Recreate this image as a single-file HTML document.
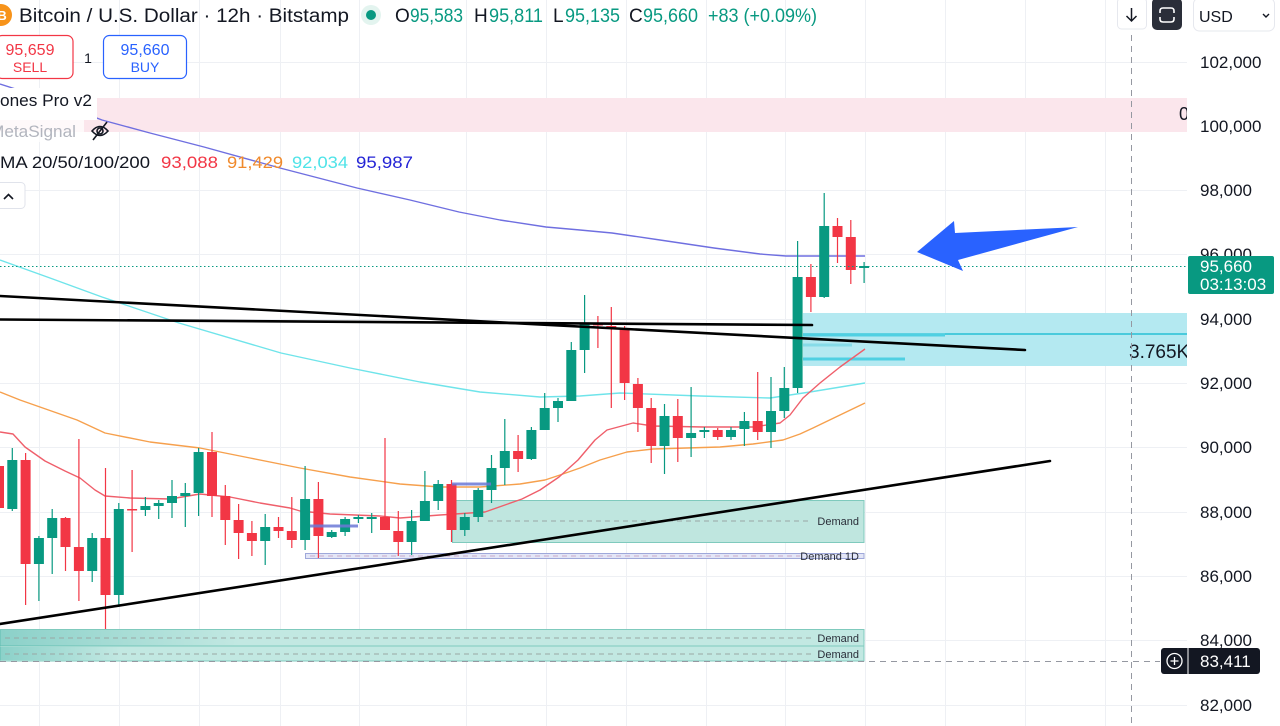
<!DOCTYPE html>
<html><head><meta charset="utf-8"><style>html,body{margin:0;padding:0;background:#fff;overflow:hidden}svg{display:block}</style></head>
<body>
<svg width="1280" height="726" viewBox="0 0 1280 726" xmlns="http://www.w3.org/2000/svg" font-family="'Liberation Sans', Arial, sans-serif">
<defs>
<clipPath id="ca"><rect x="0" y="0" width="1187" height="726"/></clipPath>
<linearGradient id="lg" x1="0" x2="1" y1="0" y2="0"><stop offset="0" stop-color="#26a69a" stop-opacity="0.35"/><stop offset="1" stop-color="#26a69a" stop-opacity="0"/></linearGradient>
</defs>
<rect width="1280" height="726" fill="#fff"/>
<g clip-path="url(#ca)">
<!-- grid -->
<g stroke="#eef0f4" stroke-width="1">
<line x1="39.5" y1="0" x2="39.5" y2="726"/><line x1="119.5" y1="0" x2="119.5" y2="726"/><line x1="199.5" y1="0" x2="199.5" y2="726"/><line x1="280.5" y1="0" x2="280.5" y2="726"/><line x1="359.5" y1="0" x2="359.5" y2="726"/><line x1="466.5" y1="0" x2="466.5" y2="726"/><line x1="546.5" y1="0" x2="546.5" y2="726"/><line x1="626.5" y1="0" x2="626.5" y2="726"/><line x1="706.5" y1="0" x2="706.5" y2="726"/><line x1="785.5" y1="0" x2="785.5" y2="726"/><line x1="865.5" y1="0" x2="865.5" y2="726"/><line x1="945.5" y1="0" x2="945.5" y2="726"/><line x1="1025.5" y1="0" x2="1025.5" y2="726"/><line x1="1105.5" y1="0" x2="1105.5" y2="726"/>
<line x1="0" y1="62.5" x2="1187" y2="62.5"/><line x1="0" y1="126.5" x2="1187" y2="126.5"/><line x1="0" y1="190.5" x2="1187" y2="190.5"/><line x1="0" y1="254.5" x2="1187" y2="254.5"/><line x1="0" y1="319.5" x2="1187" y2="319.5"/><line x1="0" y1="383.5" x2="1187" y2="383.5"/><line x1="0" y1="447.5" x2="1187" y2="447.5"/><line x1="0" y1="512.5" x2="1187" y2="512.5"/><line x1="0" y1="576.5" x2="1187" y2="576.5"/><line x1="0" y1="640.5" x2="1187" y2="640.5"/><line x1="0" y1="705.5" x2="1187" y2="705.5"/>
</g>
<!-- pink zone -->
<rect x="0" y="98" width="1187" height="34" fill="#fbe6ec"/>
<text x="1179" y="120" font-size="18" fill="#131722">0</text>
<!-- cyan zone -->
<rect x="803" y="313" width="384" height="53" fill="#b4e9f1"/>
<line x1="803" y1="334" x2="1187" y2="334" stroke="#26c0d6" stroke-width="1.5"/>
<line x1="803" y1="335" x2="945" y2="335" stroke="#4fd0e2" stroke-width="3"/>
<line x1="803" y1="345" x2="852" y2="345" stroke="#86dbe8" stroke-width="3"/>
<line x1="803" y1="359" x2="905" y2="359" stroke="#4fd0e2" stroke-width="3"/>
<text x="1129" y="358" font-size="19" fill="#131722">3.765K</text>
<!-- demand boxes -->
<rect x="452.5" y="500.5" width="411.5" height="42" fill="#bfe6df" stroke="#7fcabd" stroke-width="1"/>
<line x1="488" y1="521" x2="812" y2="521" stroke="#9aa7a4" stroke-width="1" stroke-dasharray="5 4"/>
<text x="859" y="525" font-size="11" fill="#2a2e39" text-anchor="end">Demand</text>
<rect x="305.5" y="553.5" width="558.5" height="5" fill="#e3e6f7" stroke="#9fa8da" stroke-width="1"/>
<line x1="310" y1="556" x2="800" y2="556" stroke="#c9a9c9" stroke-width="1" stroke-dasharray="5 4"/>
<text x="859" y="560" font-size="11" fill="#2a2e39" text-anchor="end">Demand 1D</text>
<rect x="0" y="629.5" width="864" height="16.5" fill="#c2e8e2" stroke="#7fcabd" stroke-width="1"/>
<rect x="0" y="646" width="864" height="15" fill="#c2e8e2" stroke="#7fcabd" stroke-width="1"/>
<rect x="0" y="630" width="240" height="16" fill="url(#lg)"/>
<rect x="0" y="647" width="120" height="13" fill="url(#lg)"/>
<line x1="5" y1="638" x2="815" y2="638" stroke="#9aa7a4" stroke-width="1" stroke-dasharray="5 4"/>
<line x1="5" y1="654" x2="815" y2="654" stroke="#9aa7a4" stroke-width="1" stroke-dasharray="5 4"/>
<text x="859" y="642" font-size="11" fill="#2a2e39" text-anchor="end">Demand</text>
<text x="859" y="658" font-size="11" fill="#2a2e39" text-anchor="end">Demand</text>
<!-- moving averages -->
<g fill="none" stroke-width="1.4" stroke-linejoin="round">
<polyline stroke="#6f6fe0" points="0,84 50,100 102,120 150,133 204,147 280,168 357,188 410,200 459,212 500,220 546,227 580,230 612,233 660,240 714,248 760,254 786,256 865,256"/>
<polyline stroke="#6fe4ea" points="0,260 50,278 102,297 179,323 281,353 350,368 420,382 480,392 540,397 580,396 620,393 700,396 770,398 810,392 865,383"/>
<polyline stroke="#f6a04d" points="0,392 20,400 77,420 105,433 150,442 200,448 250,458 300,468 350,477 400,484 440,487 480,487 520,484 545,480 560,475 580,468 600,460 627,452 653,449 720,447 753,444 783,440 800,434 813,428 840,415 865,403"/>
<polyline stroke="#ef5f6b" points="0,432 13,434 25,447 45,461 65,471 80,478 95,490 105,496 130,498 170,499 200,494 230,497 260,503 290,508 300,511 330,514 380,516 400,518 440,515 485,512 522,499 540,490 559,477 578,460 595,440 607,430 633,423 653,426 703,427 753,427 780,423 790,415 803,398 820,383 840,367 865,349"/>
</g>
<!-- green candles -->
<g fill="#089981">
<rect x="11.7" y="448" width="1.2" height="63"/><rect x="7.3" y="460" width="10" height="49"/>
<rect x="38.3" y="536" width="1.2" height="65"/><rect x="33.9" y="538" width="10" height="26"/>
<rect x="51.6" y="509" width="1.2" height="65"/><rect x="47.2" y="518" width="10" height="20"/>
<rect x="91.6" y="533" width="1.2" height="49"/><rect x="87.2" y="538" width="10" height="33"/>
<rect x="118.2" y="503" width="1.2" height="104"/><rect x="113.8" y="509" width="10" height="86"/>
<rect x="144.8" y="497" width="1.2" height="19"/><rect x="140.4" y="506" width="10" height="4"/>
<rect x="158.1" y="500" width="1.2" height="19"/><rect x="153.7" y="503" width="10" height="3"/>
<rect x="171.4" y="480" width="1.2" height="38"/><rect x="167" y="496" width="10" height="7"/>
<rect x="184.7" y="483" width="1.2" height="44"/><rect x="180.3" y="493" width="10" height="3"/>
<rect x="198" y="448" width="1.2" height="68"/><rect x="193.6" y="452" width="10" height="41"/>
<rect x="264.6" y="514" width="1.2" height="51"/><rect x="260.2" y="527" width="10" height="14"/>
<rect x="304.5" y="466" width="1.2" height="84"/><rect x="300.1" y="499" width="10" height="41"/>
<rect x="331.1" y="530" width="1.2" height="8"/><rect x="326.7" y="532" width="10" height="5"/>
<rect x="344.5" y="517" width="1.2" height="19"/><rect x="340.1" y="519" width="10" height="13"/>
<rect x="357.8" y="515" width="1.2" height="8"/><rect x="353.4" y="517" width="10" height="2"/>
<rect x="371.1" y="513" width="1.2" height="20"/><rect x="366.7" y="517" width="10" height="2"/>
<rect x="411" y="510" width="1.2" height="45"/><rect x="406.6" y="521" width="10" height="21"/>
<rect x="424.3" y="471" width="1.2" height="50"/><rect x="419.9" y="501" width="10" height="20"/>
<rect x="437.6" y="480" width="1.2" height="30"/><rect x="433.2" y="484" width="10" height="17"/>
<rect x="464.2" y="513" width="1.2" height="23"/><rect x="459.8" y="517" width="10" height="13"/>
<rect x="477.6" y="488" width="1.2" height="34"/><rect x="473.2" y="490" width="10" height="27"/>
<rect x="490.9" y="455" width="1.2" height="48"/><rect x="486.5" y="468" width="10" height="22"/>
<rect x="504.2" y="419" width="1.2" height="66"/><rect x="499.8" y="451" width="10" height="17"/>
<rect x="530.8" y="427" width="1.2" height="33"/><rect x="526.4" y="430" width="10" height="29"/>
<rect x="544.1" y="393" width="1.2" height="37"/><rect x="539.7" y="408" width="10" height="22"/>
<rect x="557.4" y="398" width="1.2" height="24"/><rect x="553" y="401" width="10" height="7"/>
<rect x="570.7" y="342" width="1.2" height="59"/><rect x="566.3" y="350" width="10" height="51"/>
<rect x="584" y="295" width="1.2" height="78"/><rect x="579.6" y="324" width="10" height="26"/>
<rect x="663.9" y="404" width="1.2" height="70"/><rect x="659.5" y="416" width="10" height="30"/>
<rect x="690.5" y="387" width="1.2" height="70"/><rect x="686.1" y="433" width="10" height="5"/>
<rect x="703.8" y="427" width="1.2" height="11"/><rect x="699.4" y="430" width="10" height="2"/>
<rect x="730.4" y="427" width="1.2" height="13"/><rect x="726" y="430" width="10" height="7"/>
<rect x="743.8" y="412" width="1.2" height="34"/><rect x="739.4" y="421" width="10" height="8"/>
<rect x="770.4" y="377" width="1.2" height="71"/><rect x="766" y="411" width="10" height="21"/>
<rect x="783.7" y="367" width="1.2" height="51"/><rect x="779.3" y="388" width="10" height="23"/>
<rect x="797" y="241" width="1.2" height="152"/><rect x="792.6" y="277" width="10" height="111"/>
<rect x="823.6" y="193" width="1.2" height="105"/><rect x="819.2" y="226" width="10" height="71"/>
<rect x="863.5" y="262" width="1.2" height="21"/><rect x="859.1" y="266" width="10" height="2"/>
</g>
<!-- red candles -->
<g fill="#f23645">
<rect x="-1.6" y="455" width="1.2" height="57"/><rect x="-6" y="466" width="10" height="42"/>
<rect x="25" y="453" width="1.2" height="152"/><rect x="20.6" y="460" width="10" height="104"/>
<rect x="64.9" y="517" width="1.2" height="54"/><rect x="60.5" y="518" width="10" height="29"/>
<rect x="78.3" y="439" width="1.2" height="162"/><rect x="73.9" y="547" width="10" height="24"/>
<rect x="104.9" y="468" width="1.2" height="161"/><rect x="100.5" y="538" width="10" height="57"/>
<rect x="131.5" y="470" width="1.2" height="82"/><rect x="127.1" y="509" width="10" height="1.5"/>
<rect x="211.4" y="432" width="1.2" height="85"/><rect x="207" y="452" width="10" height="44"/>
<rect x="224.7" y="485" width="1.2" height="60"/><rect x="220.3" y="496" width="10" height="24"/>
<rect x="238" y="504" width="1.2" height="55"/><rect x="233.6" y="520" width="10" height="13"/>
<rect x="251.3" y="521" width="1.2" height="35"/><rect x="246.9" y="533" width="10" height="8"/>
<rect x="277.9" y="517" width="1.2" height="21"/><rect x="273.5" y="527" width="10" height="4"/>
<rect x="291.2" y="497" width="1.2" height="51"/><rect x="286.8" y="531" width="10" height="9"/>
<rect x="317.8" y="482" width="1.2" height="76"/><rect x="313.4" y="499" width="10" height="37"/>
<rect x="384.4" y="438" width="1.2" height="92"/><rect x="380" y="517" width="10" height="13"/>
<rect x="397.7" y="511" width="1.2" height="45"/><rect x="393.3" y="531" width="10" height="11"/>
<rect x="450.9" y="480" width="1.2" height="62"/><rect x="446.5" y="484" width="10" height="46"/>
<rect x="517.5" y="435" width="1.2" height="37"/><rect x="513.1" y="451" width="10" height="8"/>
<rect x="597.3" y="316" width="1.2" height="32"/><rect x="592.9" y="323" width="10" height="2.5"/>
<rect x="610.7" y="307" width="1.2" height="101"/><rect x="606.3" y="326" width="10" height="2.5"/>
<rect x="624" y="326" width="1.2" height="74"/><rect x="619.6" y="328" width="10" height="55"/>
<rect x="637.3" y="378" width="1.2" height="54"/><rect x="632.9" y="384" width="10" height="24"/>
<rect x="650.6" y="398" width="1.2" height="65"/><rect x="646.2" y="408" width="10" height="38"/>
<rect x="677.2" y="399" width="1.2" height="63"/><rect x="672.8" y="416" width="10" height="22"/>
<rect x="717.1" y="428" width="1.2" height="12"/><rect x="712.7" y="430" width="10" height="7"/>
<rect x="757.1" y="372" width="1.2" height="68"/><rect x="752.7" y="421" width="10" height="11"/>
<rect x="810.3" y="264" width="1.2" height="48"/><rect x="805.9" y="277" width="10" height="20"/>
<rect x="836.9" y="218" width="1.2" height="45"/><rect x="832.5" y="226" width="10" height="11"/>
<rect x="850.2" y="220" width="1.2" height="64"/><rect x="845.8" y="237" width="10" height="33"/>
</g>
<!-- small blue levels -->
<line x1="310" y1="526" x2="358" y2="526" stroke="#6c78d6" stroke-width="3" opacity="0.85"/>
<line x1="452" y1="484" x2="491" y2="484" stroke="#6c78d6" stroke-width="3" opacity="0.85"/>
<!-- trendlines -->
<g stroke="#000" stroke-width="2.6" stroke-linecap="round">
<line x1="0" y1="624" x2="1050" y2="461"/>
<line x1="0" y1="296" x2="1025" y2="350"/>
<line x1="0" y1="319.5" x2="812" y2="325"/>
</g>
<!-- current price line -->
<line x1="0" y1="266.5" x2="1187" y2="266.5" stroke="#089981" stroke-width="1" stroke-dasharray="1.5 2.5"/>
</g>
<!-- crosshair -->
<line x1="1131.5" y1="35" x2="1131.5" y2="726" stroke="#9598a1" stroke-width="1" stroke-dasharray="6 5"/>
<line x1="0" y1="661.5" x2="1160" y2="661.5" stroke="#9598a1" stroke-width="1" stroke-dasharray="6 5"/>
<!-- arrow -->
<polygon points="917,252 954,221 955,233 1078,227 958,260 963,271" fill="#2962ff"/>

<!-- legend -->
<rect x="0" y="88" width="97" height="32" fill="#fff"/>
<rect x="0" y="120" width="84" height="22" fill="#fff" opacity="0.75"/>
<text x="0" y="106" font-size="17" fill="#131722" textLength="92" lengthAdjust="spacingAndGlyphs">ones Pro v2</text>
<text x="-10" y="137" font-size="17" fill="#b2b5be" textLength="86" lengthAdjust="spacingAndGlyphs">MetaSignal</text>
<g stroke="#131722" stroke-width="1.6" fill="none">
<path d="M92 131 Q100 122 108 131 Q100 140 92 131 Z"/>
<circle cx="100" cy="131" r="3"/>
<line x1="93" y1="140" x2="107" y2="122"/>
</g>
<text x="0" y="168" font-size="17" fill="#131722" textLength="150" lengthAdjust="spacingAndGlyphs">MA 20/50/100/200</text>
<text x="161" y="168" font-size="17" fill="#f23645" textLength="57" lengthAdjust="spacingAndGlyphs">93,088</text>
<text x="227" y="168" font-size="17" fill="#f08a2c" textLength="56" lengthAdjust="spacingAndGlyphs">91,429</text>
<text x="292" y="168" font-size="17" fill="#4fe3e8" textLength="56" lengthAdjust="spacingAndGlyphs">92,034</text>
<text x="356" y="168" font-size="17" fill="#2424d6" textLength="57" lengthAdjust="spacingAndGlyphs">95,987</text>
<rect x="-6" y="182.5" width="31" height="26" rx="4" fill="#fff" stroke="#e0e3eb"/>
<path d="M4 199 L8.5 194.5 L13 199" stroke="#131722" stroke-width="1.6" fill="none"/>

<!-- sell/buy -->
<rect x="-4" y="35.5" width="77" height="43" rx="6" fill="#fff" stroke="#f23645" stroke-width="1.2"/>
<text x="30" y="55" font-size="16" fill="#f23645" text-anchor="middle">95,659</text>
<text x="30" y="72" font-size="14" fill="#f23645" text-anchor="middle">SELL</text>
<text x="88" y="63" font-size="14" fill="#131722" text-anchor="middle">1</text>
<rect x="103.5" y="35.5" width="83" height="43" rx="6" fill="#fff" stroke="#2962ff" stroke-width="1.2"/>
<text x="145" y="55" font-size="16" fill="#2962ff" text-anchor="middle">95,660</text>
<text x="145" y="72" font-size="14" fill="#2962ff" text-anchor="middle">BUY</text>

<!-- header -->
<circle cx="1" cy="15" r="11" fill="#f7931a"/>
<text x="2" y="20" font-size="13" font-weight="bold" fill="#fff" text-anchor="middle">B</text>
<text x="19" y="22" font-size="19" fill="#131722" textLength="330" lengthAdjust="spacingAndGlyphs">Bitcoin / U.S. Dollar · 12h · Bitstamp</text>
<circle cx="371" cy="15" r="10" fill="#e3f4ef"/>
<circle cx="371" cy="15" r="5" fill="#089981"/>
<g font-size="19">
<text x="395" y="22" fill="#131722">O</text>
<text x="410" y="22" fill="#089981" textLength="53" lengthAdjust="spacingAndGlyphs">95,583</text>
<text x="474" y="22" fill="#131722">H</text>
<text x="489" y="22" fill="#089981" textLength="54" lengthAdjust="spacingAndGlyphs">95,811</text>
<text x="553" y="22" fill="#131722">L</text>
<text x="565" y="22" fill="#089981" textLength="55" lengthAdjust="spacingAndGlyphs">95,135</text>
<text x="629" y="22" fill="#131722">C</text>
<text x="643" y="22" fill="#089981" textLength="55" lengthAdjust="spacingAndGlyphs">95,660</text>
<text x="708" y="22" fill="#089981" textLength="109" lengthAdjust="spacingAndGlyphs">+83 (+0.09%)</text>
</g>

<!-- top right buttons -->
<rect x="1117.5" y="-2" width="29" height="31" rx="4" fill="#fff" stroke="#e6e8ee"/>
<path d="M1131.5 8 V21 M1126.5 16 L1131.5 21 L1136.5 16" stroke="#131722" stroke-width="1.5" fill="none"/>
<rect x="1152" y="-2" width="30" height="32" rx="5" fill="#2a2e39"/>
<path d="M1160 13 V11 Q1160 8 1163 8 H1171 Q1174 8 1174 11 V13 M1160 17 V19 Q1160 22 1163 22 H1171 Q1174 22 1174 19 V17" stroke="#fff" stroke-width="1.6" fill="none"/>
<rect x="1193.5" y="-2" width="81" height="33" rx="6" fill="#fff" stroke="#e6e8ee"/>
<text x="1199" y="22" font-size="16" fill="#131722">USD</text>
<path d="M1263 14 L1266 17 L1269 14" stroke="#131722" stroke-width="1.4" fill="none"/>

<!-- right axis -->
<g font-size="17" fill="#131722">
<text x="1200" y="68">102,000</text>
<text x="1200" y="132">100,000</text>
<text x="1200" y="196">98,000</text>
<text x="1200" y="260">96,000</text>
<text x="1200" y="325">94,000</text>
<text x="1200" y="389">92,000</text>
<text x="1200" y="453">90,000</text>
<text x="1200" y="518">88,000</text>
<text x="1200" y="582">86,000</text>
<text x="1200" y="646">84,000</text>
<text x="1200" y="711">82,000</text>
</g>
<rect x="1188" y="256" width="86" height="38" rx="2" fill="#089981"/>
<text x="1200" y="272" font-size="17" fill="#fff">95,660</text>
<text x="1200" y="290" font-size="17" fill="#fff">03:13:03</text>
<rect x="1161" y="648" width="99" height="26" rx="3" fill="#131722"/>
<line x1="1188" y1="648" x2="1188" y2="674" stroke="#fff" stroke-width="1"/>
<circle cx="1174.5" cy="661" r="7.5" fill="none" stroke="#fff" stroke-width="1.3"/>
<path d="M1170.5 661 H1178.5 M1174.5 657 V665" stroke="#fff" stroke-width="1.3"/>
<text x="1200" y="667" font-size="17" fill="#fff">83,411</text>
</svg>
</body></html>
